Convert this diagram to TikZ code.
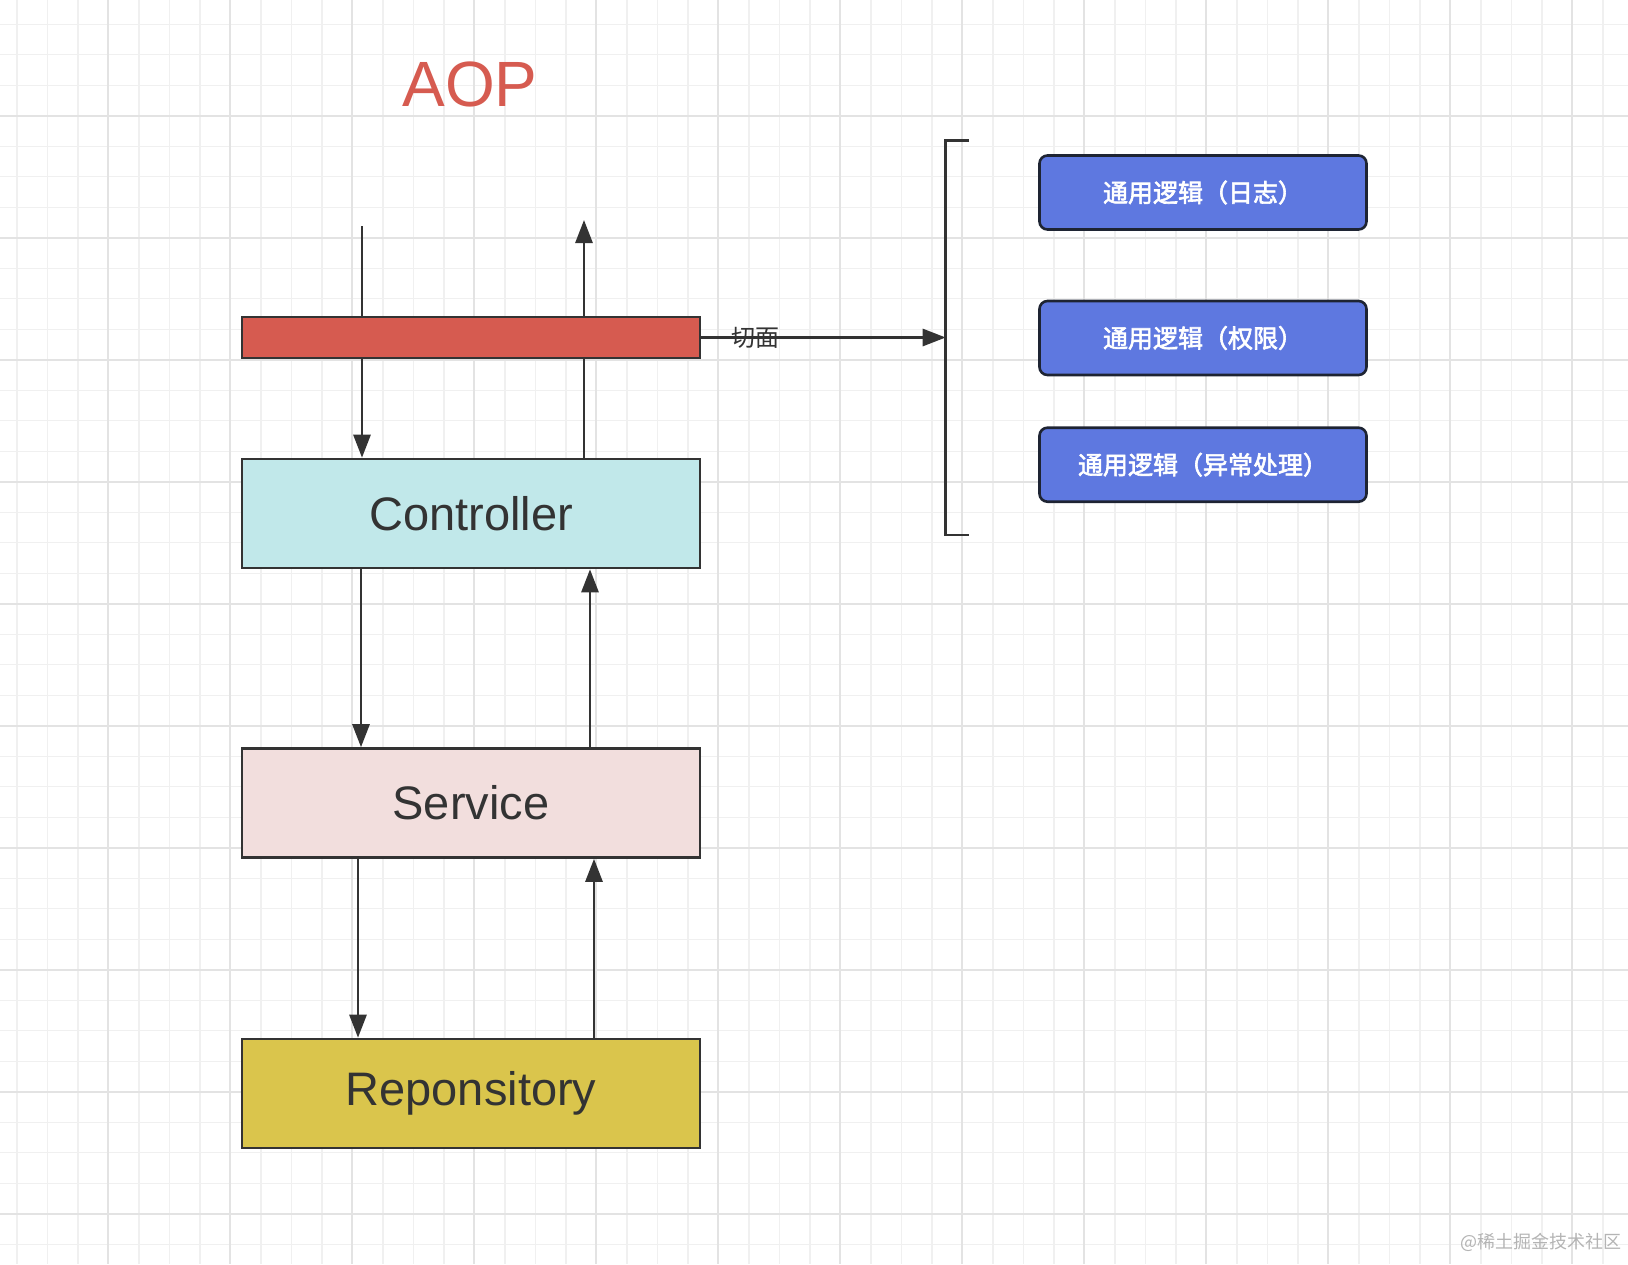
\documentclass[tikz,border=0pt]{standalone}
\usepackage{fontspec}
\setmainfont{Liberation Sans}
\newfontfamily\cjk{Noto Sans CJK SC}
\newfontfamily\cjkb[FakeBold=2.5]{Noto Sans CJK SC}
\usetikzlibrary{arrows.meta,backgrounds}
\definecolor{aopred}{HTML}{D65B50}
\definecolor{ctrlfill}{HTML}{C1E8EA}
\definecolor{svcfill}{HTML}{F2DEDD}
\definecolor{repofill}{HTML}{DAC54C}
\definecolor{bluebox}{HTML}{5E78E0}
\definecolor{blueedge}{HTML}{1E2433}
\definecolor{edgec}{HTML}{333333}
\definecolor{gridminor}{HTML}{F0F0F0}
\definecolor{gridmajor}{HTML}{E3E3E3}
\definecolor{wmark}{HTML}{B4B4B4}
\tikzset{
  layerbox/.style={draw=edgec, line width=2.6pt, minimum width=458pt, minimum height=109pt, inner sep=0pt,
    text=edgec, font=\fontsize{47}{56}\selectfont},
  logicbox/.style={draw=blueedge, fill=bluebox, line width=2.6pt, rounded corners=8pt,
    minimum width=327pt, minimum height=74pt, inner sep=0pt, text=white,
    font=\cjkb\fontsize{25}{29}\selectfont},
  arr/.style={draw=edgec, line width=2.8pt, -{Triangle[length=23pt,width=17pt]}},
  plain/.style={draw=edgec, line width=2.8pt},
}
\begin{document}
\begin{tikzpicture}[x=1pt,y=-1pt]
\useasboundingbox (0,0) rectangle (1628,1264);

% title
\node[anchor=base, text=aopred, font=\fontsize{64}{70}\selectfont, inner sep=0pt] (title) at (470,106) {AOP};

% main boxes
\node[layerbox, fill=aopred, minimum height=41pt] (bar) at (471,337.5) {};
\node[layerbox, fill=ctrlfill] (ctrl) at (471,513.5) {Controller};
\node[layerbox, fill=svcfill] (svc) at (471,803) {Service};
\node[layerbox, fill=repofill] (repo) at (471,1093.5) {Reponsitory};

% logic boxes
\node[logicbox] (log1) at (1203,192.5) {通用逻辑（日志）};
\node[logicbox] (log2) at (1203,338) {通用逻辑（权限）};
\node[logicbox] (log3) at (1203,464.7) {通用逻辑（异常处理）};

% coordinates
\coordinate (in1) at (362,226);
\coordinate (out1) at (584,220);
\coordinate (brtop) at (969,140.7);
\coordinate (brbot) at (969,535);
\coordinate (brmid) at (945.7,337.5);

% bracket
\draw[plain] (brtop) -- (945.7,140.7) -- (945.7,535) -- (brbot);

\begin{scope}[on background layer]
\fill[white] (0,0) rectangle (1628,1264);
\foreach \i in {0,...,53} { \draw[gridminor, line width=1.4pt] ({16.8+30.5*\i},0) -- ++(0,1264); }
\foreach \j in {0,...,41} { \draw[gridminor, line width=1.4pt] (0,{24.2+30.5*\j}) -- ++(1628,0); }
\foreach \i in {0,...,12} { \draw[gridmajor, line width=2pt] ({108.3+122*\i},0) -- ++(0,1264); }
\foreach \j in {0,...,9} { \draw[gridmajor, line width=2pt] (0,{115.7+122*\j}) -- ++(1628,0); }
\draw[arr] (in1) -- (in1 |- ctrl.north);
\draw[arr] (ctrl.north -| out1) -- (out1);
\draw[arr] ([xshift=-110pt]ctrl.south) -- ([xshift=-110pt]svc.north);
\draw[arr] ([xshift=119pt]svc.north) -- ([xshift=119pt]ctrl.south);
\draw[arr] ([xshift=-113pt,yshift=5pt]svc.south) -- ([xshift=-113pt]repo.north);
\draw[arr] ([xshift=123pt]repo.north) -- ([xshift=123pt]svc.south);
\end{scope}

% aspect arrow
\draw[arr] (bar.east) -- (brmid);
\node[text=edgec, font=\cjk\fontsize{24}{28}\selectfont, inner sep=0pt] (lbl) at (755,338) {切面};

% watermark
\node[anchor=east, text=wmark, font=\cjk\fontsize{18}{22}\selectfont, inner sep=0pt] (wm) at (1622,1242) {@稀土掘金技术社区};
\end{tikzpicture}
\end{document}
